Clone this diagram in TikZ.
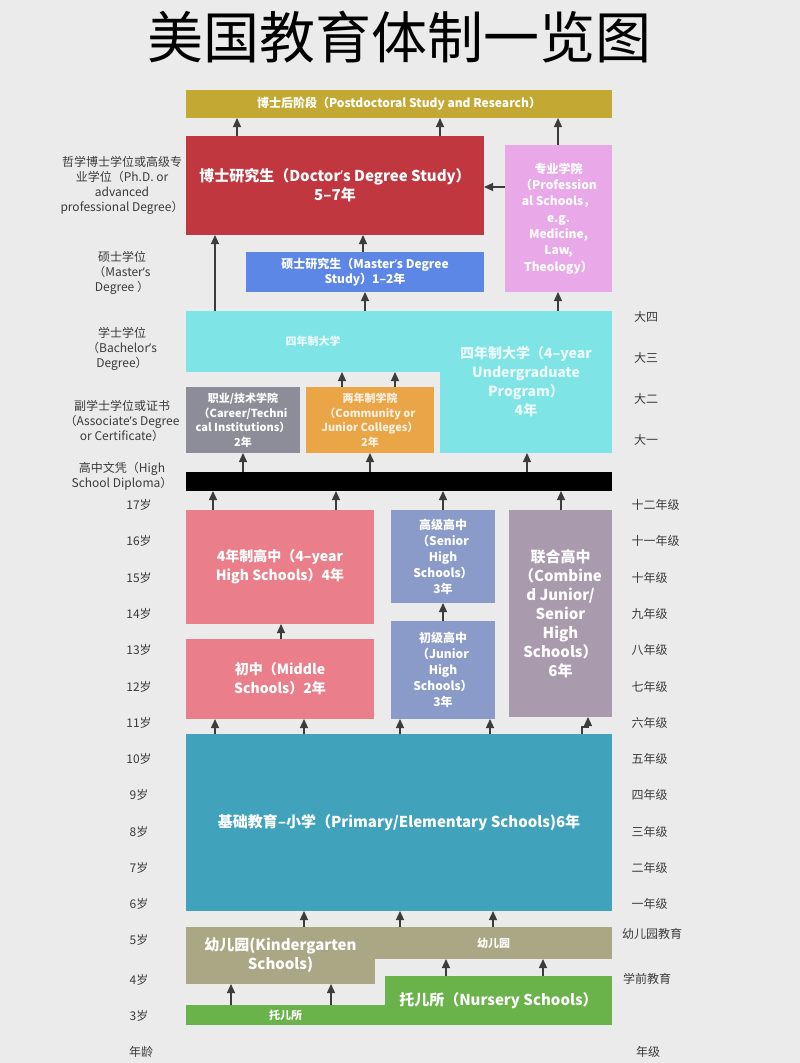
\documentclass[tikz,border=0pt]{standalone}
\usepackage{fontspec}
\setmainfont{Noto Sans CJK SC}
\newfontfamily\latinf{Noto Sans}
\newcommand\ap{{\latinf ’}}
\usepackage{tikz}
\usetikzlibrary{arrows.meta}

\definecolor{bgc}{HTML}{EBEBEB}
\definecolor{labc}{HTML}{3A3A3A}
\definecolor{arrc}{HTML}{3C3C3C}
\definecolor{pdc}{HTML}{C3A934}
\definecolor{docc}{HTML}{C1373F}
\definecolor{msc}{HTML}{5D87E6}
\definecolor{profc}{HTML}{E9A9E8}
\definecolor{ugc}{HTML}{7FE4E6}
\definecolor{carc}{HTML}{8C8D99}
\definecolor{comc}{HTML}{E9A546}
\definecolor{hsc}{HTML}{EA7F8B}
\definecolor{shc}{HTML}{8A9BC9}
\definecolor{cbc}{HTML}{A99AAE}
\definecolor{prc}{HTML}{40A2BB}
\definecolor{kgc}{HTML}{A9A784}
\definecolor{nsc}{HTML}{6AB24A}

\begin{document}
\begin{tikzpicture}[x=1pt,y=-1pt,
    box/.style={anchor=north west,inner sep=0pt,outer sep=0pt,text=white,align=center,
      font=\bfseries\fontsize{14}{19}\selectfont},
    lab/.style={text=labc,align=center,font=\fontsize{12}{15}\selectfont},
    up/.style={-{Triangle[length=9pt,width=8pt]},line width=1.3pt,arrc}]
    \useasboundingbox (0,0) rectangle (800,1063);
    \fill [bgc] (0,0) rectangle (800,1063);

    % title
    \node (title) at (399,37) {\fontsize{56}{56}\selectfont 美国教育体制一览图};

    % graduate level
    \node [box,fill=pdc,minimum width=426pt,minimum height=28pt,font=\bfseries\fontsize{12}{14}\selectfont]
      (pd) at (186,90) {博士后阶段（Postdoctoral Study and Research）};
    \node [box,fill=docc,minimum width=298pt,minimum height=99pt,font=\bfseries\fontsize{15}{19}\selectfont]
      (doc) at (186,136) {博士研究生（Doctor\ap s Degree Study）\\5–7年};
    \node [box,fill=profc,minimum width=107pt,minimum height=147pt,font=\bfseries\fontsize{12}{16.3}\selectfont]
      (prof) at (505,145) {专业学院\\（Profession\\al Schools，\\e.g.\\Medicine,\\Law,\\Theology）};
    \node [box,fill=msc,minimum width=238pt,minimum height=40pt,font=\bfseries\fontsize{12}{15}\selectfont]
      (ms) at (246,252) {硕士研究生（Master\ap s Degree\\Study）1–2年};

    % undergraduate
    \node [box,fill=ugc,minimum width=254pt,minimum height=61pt,font=\bfseries\fontsize{11}{14}\selectfont,text=white!85!ugc]
      (ugL) at (186,311) {四年制大学};
    \node [box,fill=ugc,minimum width=172pt,minimum height=142pt,text=white!85!ugc]
      (ugR) at (440,311) {四年制大学（4–year\\Undergraduate\\Program）\\4年};
    \node [box,fill=carc,minimum width=114pt,minimum height=66pt,font=\bfseries\fontsize{11}{14.5}\selectfont]
      (career) at (186,387) {职业/技术学院\\（Career/Techni\\cal Institutions）\\2年};
    \node [box,fill=comc,minimum width=128pt,minimum height=66pt,font=\bfseries\fontsize{11}{14.5}\selectfont,text=white!85!comc]
      (comm) at (306,387) {两年制学院\\（Community or\\Junior Colleges）\\2年};
    \node [box,fill=black,minimum width=426pt,minimum height=19pt] (hsd) at (186,472) {};

    % secondary
    \node [box,fill=hsc,minimum width=188pt,minimum height=114pt]
      (hs4) at (186,510) {4年制高中（4–year\\High Schools）4年};
    \node [box,fill=hsc,minimum width=188pt,minimum height=80pt]
      (mid) at (186,639) {初中（Middle\\Schools）2年};
    \node [box,fill=shc,minimum width=104pt,minimum height=93pt,font=\bfseries\fontsize{12}{16}\selectfont]
      (shs) at (391,510) {高级高中\\（Senior\\High\\Schools）\\3年};
    \node [box,fill=shc,minimum width=104pt,minimum height=98pt,font=\bfseries\fontsize{12}{16}\selectfont]
      (jhs) at (391,621) {初级高中\\（Junior\\High\\Schools）\\3年};
    \node [box,fill=cbc,minimum width=103pt,minimum height=207pt,font=\bfseries\fontsize{15}{19}\selectfont]
      (comb) at (509,510) {联合高中\\（Combine\\d Junior/\\Senior\\High\\Schools）\\6年};

    % primary and pre-school
    \node [box,fill=prc,minimum width=426pt,minimum height=177pt,font=\bfseries\fontsize{15}{19}\selectfont]
      (prim) at (186,734) {基础教育–小学（Primary/Elementary Schools)6年};
    \node [box,fill=kgc,minimum width=189pt,minimum height=57pt,font=\bfseries\fontsize{15}{19}\selectfont]
      (kgL) at (186,927) {幼儿园(Kindergarten\\Schools)};
    \node [box,fill=kgc,minimum width=237pt,minimum height=32pt,font=\bfseries\fontsize{11}{14}\selectfont]
      (kgR) at (375,927) {幼儿园};
    \node [box,fill=nsc,minimum width=199pt,minimum height=20pt,font=\bfseries\fontsize{11}{14}\selectfont]
      (nsL) at (186,1005) {托儿所};
    \node [box,fill=nsc,minimum width=227pt,minimum height=49pt,font=\bfseries\fontsize{15}{19}\selectfont]
      (nsR) at (385,976) {托儿所（Nursery Schools）};

    % arrows
    \draw [up] (doc.north -| 237,0) -- (pd.south -| 237,0);
    \draw [up] (doc.north -| 440,0) -- (pd.south -| 440,0);
    \draw [up] (prof.north -| 558,0) -- (pd.south -| 558,0);
    \draw [up] (prof.west |- 0,187) -- (doc.east |- 0,187);
    \draw [up] (ugL.north -| 215,0) -- (doc.south -| 215,0);
    \draw [up] (ms.north -| 363,0) -- (doc.south -| 363,0);
    \draw [up] (ugL.north -| 365,0) -- (ms.south -| 365,0);
    \draw [up] (ugR.north -| 558,0) -- (prof.south -| 558,0);
    \foreach \x in {342,395}
      \draw [up] (comm.north -| \x,0) -- (ugL.south -| \x,0);
    \draw [up] (hsd.north -| 243,0) -- (career.south -| 243,0);
    \draw [up] (hsd.north -| 370,0) -- (comm.south -| 370,0);
    \draw [up] (hsd.north -| 527,0) -- (ugR.south -| 527,0);
    \foreach \x in {213,336}
      \draw [up] (hs4.north -| \x,0) -- (hsd.south -| \x,0);
    \draw [up] (shs.north -| 443,0) -- (hsd.south -| 443,0);
    \draw [up] (comb.north -| 561,0) -- (hsd.south -| 561,0);
    \draw [up] (mid.north -| 281,0) -- (hs4.south -| 281,0);
    \draw [up] (jhs.north -| 443,0) -- (shs.south -| 443,0);
    \foreach \x in {215,304}
      \draw [up] (prim.north -| \x,0) -- (mid.south -| \x,0);
    \foreach \x in {400,490}
      \draw [up] (prim.north -| \x,0) -- (jhs.south -| \x,0);
    \draw [up] (prim.north -| 582,0) -- ++(0,-7) -| (comb.south -| 588,0);
    \draw [up] (kgL.north -| 304,0) -- (prim.south -| 304,0);
    \foreach \x in {400,493}
      \draw [up] (kgR.north -| \x,0) -- (prim.south -| \x,0);
    \foreach \x in {231,331}
      \draw [up] (nsL.north -| \x,0) -- (kgL.south -| \x,0);
    \foreach \x in {446,543}
      \draw [up] (nsR.north -| \x,0) -- (kgR.south -| \x,0);

    % degree labels (left)
    \node [lab] (phd) at (122,185) {哲学博士学位或高级专\\业学位（Ph.D. or\\advanced\\professional Degree）};
    \node [lab] (mas) at (122,273) {硕士学位\\（Master\ap s\\Degree ）};
    \node [lab] (bach) at (122,349) {学士学位\\（Bachelor\ap s\\Degree）};
    \node [lab] (asso) at (122,421) {副学士学位或证书\\（Associate\ap s Degree\\or Certificate）};
    \node [lab] (dipl) at (122,476) {高中文凭（High\\School Diploma）};

    % ages and grades
    \foreach \a/\g [count=\i from 0] in {17/十二年级,16/十一年级,15/十年级,14/九年级,13/八年级,
        12/七年级,11/六年级,10/五年级,9/四年级,8/三年级,7/二年级,6/一年级} {
      \node [lab] (age\a) at (139,505+36.3*\i) {\a 岁};
      \node [lab,anchor=west] (grade\a) at (628,505+36.3*\i) {\g};
    }
    \node [lab] (age5) at (139,940) {5岁};
    \node [lab] (age4) at (139,980) {4岁};
    \node [lab] (age3) at (139,1016) {3岁};
    \node [lab] (agehead) at (141,1052) {年龄};
    \node [lab] (gradekg) at (652,934) {幼儿园教育};
    \node [lab] (gradepre) at (647,979) {学前教育};
    \node [lab] (gradehead) at (648,1052) {年级};
    \foreach \u [count=\i from 0] in {大四,大三,大二,大一}
      \node [lab] (uni\i) at (646,317+41*\i) {\u};
\end{tikzpicture}
\end{document}
